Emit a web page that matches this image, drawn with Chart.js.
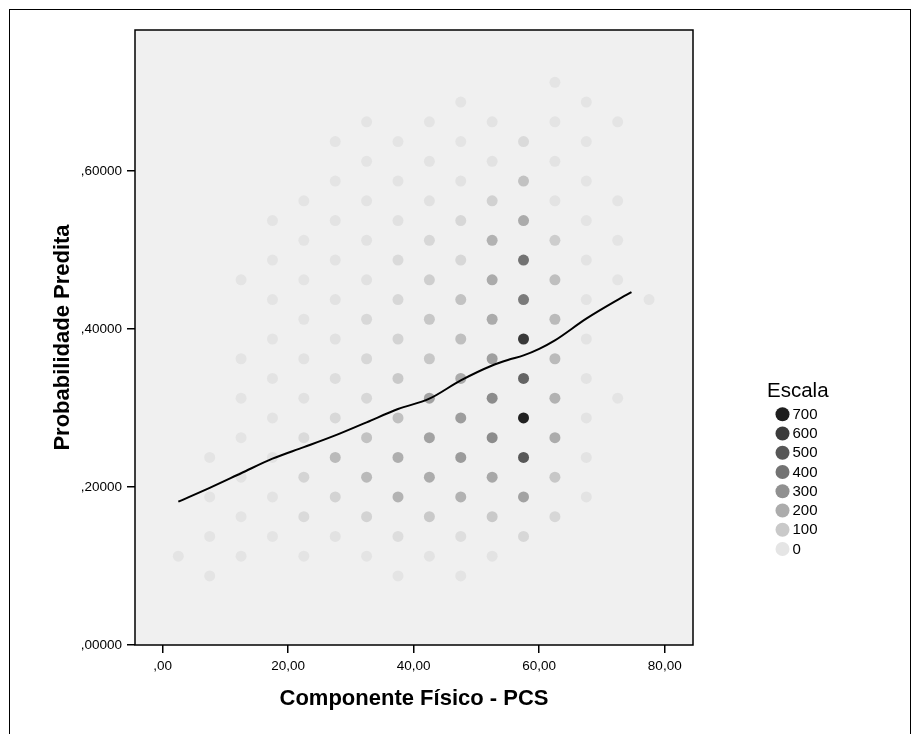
<!DOCTYPE html>
<html><head><meta charset="utf-8">
<script src="https://cdn.jsdelivr.net/npm/chart.js@4.4.1/dist/chart.umd.min.js"></script>
<style>html,body{margin:0;padding:0;background:#fff;}#wrap{position:relative;width:912px;height:734px;}</style>
</head><body><div id="wrap"><canvas id="c" width="912" height="734"></canvas></div>
<script>
// Axis ticks
const xTickValues = [0, 20, 40, 60, 80];
const yTickValues = [0, 0.2, 0.4, 0.6];
// Legend ("Escala") levels
const legendValues = [700, 600, 500, 400, 300, 200, 100, 0];
// Binned points per PCS column: [predicted probability, count]
const columnX = [2.5, 7.5, 12.5, 17.5, 22.5, 27.5, 32.5, 37.5, 42.5, 47.5, 52.5, 57.5, 62.5, 67.5, 72.5, 77.5];
const col02_5 = [[0.1125,3]];
const col07_5 = [[0.0875,3],[0.1375,5],[0.1875,5],[0.2375,5]];
const col12_5 = [[0.1125,3],[0.1625,5],[0.2125,8],[0.2625,5],[0.3125,5],[0.3625,5],[0.4625,3]];
const col17_5 = [[0.1375,5],[0.1875,8],[0.2375,8],[0.2875,8],[0.3375,8],[0.3875,5],[0.4375,5],[0.4875,4],[0.5375,3]];
const col22_5 = [[0.1125,5],[0.1625,40],[0.2125,60],[0.2625,40],[0.3125,15],[0.3625,10],[0.4125,8],[0.4625,5],[0.5125,5],[0.5625,4]];
const col27_5 = [[0.1375,12],[0.1875,65],[0.2375,150],[0.2875,45],[0.3375,28],[0.3875,15],[0.4375,10],[0.4875,8],[0.5375,6],[0.5875,5],[0.6375,5]];
const col32_5 = [[0.1125,5],[0.1625,65],[0.2125,150],[0.2625,125],[0.3125,50],[0.3625,50],[0.4125,45],[0.4625,15],[0.5125,12],[0.5625,8],[0.6125,5],[0.6625,4]];
const col37_5 = [[0.0875,3],[0.1375,28],[0.1875,175],[0.2375,195],[0.2875,130],[0.3375,100],[0.3875,65],[0.4375,50],[0.4875,40],[0.5375,15],[0.5875,8],[0.6375,5]];
const col42_5 = [[0.1125,8],[0.1625,97],[0.2125,200],[0.2625,235],[0.3125,235],[0.3625,105],[0.4125,105],[0.4625,80],[0.5125,50],[0.5625,15],[0.6125,8],[0.6625,5]];
const col47_5 = [[0.0875,5],[0.1375,25],[0.1875,180],[0.2375,260],[0.2875,255],[0.3375,205],[0.3875,135],[0.4375,125],[0.4875,50],[0.5375,50],[0.5875,10],[0.6375,5],[0.6875,4]];
const col52_5 = [[0.1125,8],[0.1625,97],[0.2125,215],[0.2625,315],[0.3125,315],[0.3625,245],[0.4125,205],[0.4625,205],[0.5125,180],[0.5625,70],[0.6125,12],[0.6625,8]];
const col57_5 = [[0.1375,50],[0.1875,235],[0.2375,495],[0.2875,690],[0.3375,455],[0.3875,610],[0.4375,375],[0.4875,400],[0.5375,205],[0.5875,125],[0.6375,40]];
const col62_5 = [[0.1625,50],[0.2125,105],[0.2625,200],[0.3125,180],[0.3625,150],[0.4125,150],[0.4625,135],[0.5125,85],[0.5625,8],[0.6125,8],[0.6625,5],[0.7125,2]];
const col67_5 = [[0.1875,6],[0.2375,8],[0.2875,8],[0.3375,8],[0.3875,8],[0.4375,6],[0.4875,6],[0.5375,5],[0.5875,5],[0.6375,5],[0.6875,4]];
const col72_5 = [[0.3125,4],[0.4625,4],[0.5125,4],[0.5625,4],[0.6625,4]];
const col77_5 = [[0.4375,3]];
const columns = [col02_5,col07_5,col12_5,col17_5,col22_5,col27_5,col32_5,col37_5,col42_5,col47_5,col52_5,col57_5,col62_5,col67_5,col72_5,col77_5];
// Fitted (loess) curve
const fitX = [2.5, 7.5, 12.5, 17.5, 22.5, 27.5, 32.5, 37.5, 42.5, 47.5, 52.5, 55, 57.5, 60, 62.5, 67.5, 72.5, 74.7];
const fitY = [0.1815, 0.199, 0.2175, 0.236, 0.2505, 0.2654, 0.282, 0.2988, 0.3119, 0.3351, 0.354, 0.361, 0.3667, 0.375, 0.3857, 0.4132, 0.437, 0.4468];

const FONT = '"Liberation Sans", Arial, Helvetica, sans-serif';
const grayFor = c => { const g = Math.round(229 - 0.284 * c); return `rgb(${g},${g},${g})`; };

const pts = [];
columnX.forEach((x, i) => columns[i].forEach(([y, c]) => pts.push({x, y, c})));

const framePlugin = {
  id: 'frame',
  beforeDraw(chart) {
    const {ctx, chartArea: a} = chart;
    ctx.save();
    ctx.fillStyle = '#fff';
    ctx.fillRect(0, 0, chart.width, chart.height);
    ctx.fillStyle = '#f0f0f0';
    ctx.fillRect(a.left, a.top, a.right - a.left, a.bottom - a.top);
    ctx.restore();
  },
  afterDraw(chart) {
    const {ctx, chartArea: a} = chart;
    ctx.save();
    ctx.strokeStyle = '#000';
    ctx.lineWidth = 1.5;
    ctx.strokeRect(a.left, a.top, a.right - a.left, a.bottom - a.top);
    ctx.lineWidth = 1;
    ctx.strokeRect(9.5, 9.5, 901, 800);
    // legend
    ctx.fillStyle = '#000';
    ctx.textAlign = 'left';
    ctx.textBaseline = 'middle';
    ctx.font = '20.5px ' + FONT;
    ctx.fillText('Escala', 767, 391);
    ctx.font = '15px ' + FONT;
    legendValues.forEach((v, i) => {
      const y = 414.3 + i * 19.25;
      ctx.beginPath();
      ctx.arc(782.5, y, 7, 0, Math.PI * 2);
      ctx.fillStyle = grayFor(v);
      ctx.fill();
      ctx.fillStyle = '#000';
      ctx.fillText(String(v), 792.5, y + 0.5);
    });
    ctx.restore();
  }
};

new Chart(document.getElementById('c'), {
  type: 'scatter',
  data: {
    datasets: [
      { label: 'Ajuste', data: fitX.map((x, i) => ({x, y: fitY[i]})), showLine: true,
        borderColor: '#000', borderWidth: 2, pointRadius: 0, cubicInterpolationMode: 'monotone', order: 0 },
      { label: 'Escala', data: pts, pointRadius: 5.5, pointHoverRadius: 5.5, pointBorderWidth: 0,
        pointBackgroundColor: pts.map(p => grayFor(p.c)), order: 1 }
    ]
  },
  options: {
    responsive: false, animation: false, events: [],
    layout: { padding: { left: 0, top: 30, right: 219, bottom: 0 } },
    plugins: { legend: { display: false }, tooltip: { enabled: false } },
    scales: {
      x: {
        type: 'linear', min: -4.4, max: 84.5,
        afterBuildTicks: s => { s.ticks = xTickValues.map(v => ({value: v})); },
        afterFit: s => { s.height = 89; },
        ticks: { color: '#000', padding: 5, font: { family: FONT, size: 13.5 },
          callback: v => { const t = v.toFixed(2).replace('.', ','); return t.startsWith('0,') ? t.slice(1) : t; } },
        grid: { display: true, drawOnChartArea: false, drawTicks: true, tickLength: 8, color: '#000', lineWidth: 1.5 },
        border: { display: false },
        title: { display: true, text: 'Componente Físico - PCS', color: '#000',
          font: { family: FONT, size: 22, weight: 'bold' }, padding: { top: 0, bottom: 21.8 } }
      },
      y: {
        type: 'linear', min: 0, max: 0.7788,
        afterBuildTicks: s => { s.ticks = yTickValues.map(v => ({value: v})); },
        afterFit: s => { s.width = 135; },
        ticks: { color: '#000', padding: 5, font: { family: FONT, size: 13.5 },
          callback: v => ',' + v.toFixed(5).split('.')[1] },
        grid: { display: true, drawOnChartArea: false, drawTicks: true, tickLength: 8, color: '#000', lineWidth: 1.5 },
        border: { display: false },
        title: { display: true, text: 'Probabilidade Predita', color: '#000',
          font: { family: FONT, size: 22, weight: 'bold' }, padding: { top: 49.3, bottom: 0 } }
      }
    }
  },
  plugins: [framePlugin]
});
</script></body></html>
